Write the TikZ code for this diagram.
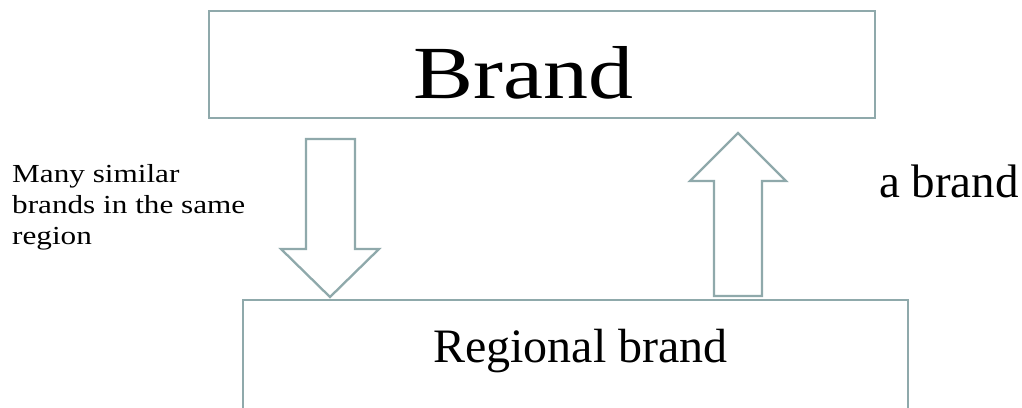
\documentclass[tikz,border=0pt]{standalone}
\usepackage{fontspec}
\setmainfont{Liberation Serif}
\newfontfamily\wideserif{Liberation Serif}[FakeStretch=1.2]
\definecolor{frame}{HTML}{8FA9AB}
\begin{document}
\begin{tikzpicture}[x=1pt,y=-1pt,
  box/.style={draw=frame, line width=2.3pt, inner sep=0pt},
  blockarrow/.style={draw=frame, fill=white, line width=2.3pt, line join=miter},
  label/.style={inner sep=0pt, text=black}]
\useasboundingbox (0,0) rectangle (1022,407);
\clip (0,0) rectangle (1022,407);

% the two boxes (the lower one runs past the bottom edge)
\node[box, minimum width=666pt, minimum height=107pt] (brand) at (542,64.5) {};
\node[box, minimum width=665pt, minimum height=200pt, anchor=north west] (regional) at (242,299) {};

% box captions
\node[label, anchor=base west, font=\wideserif\fontsize{75}{90}\selectfont] (brandtxt) at (413,98) {Brand};
\node[label, anchor=base west, font=\fontsize{48}{58}\selectfont] (regionaltxt) at (433,362) {Regional brand};

% side texts
\node[label, anchor=north west, align=left, font=\wideserif\fontsize{26}{31}\selectfont] (many) at (12,164)
  {Many similar\\brands in the same\\region};
\node[label, anchor=base west, font=\fontsize{47}{56}\selectfont] (abrand) at (879,197) {a brand};

% block arrows between the boxes
\draw[blockarrow] (306,139) -- (355,139) -- (355,249) -- (379,249) -- (330,297)
  -- (281,249) -- (306,249) -- cycle;
\draw[blockarrow] (714,296) -- (762,296) -- (762,181) -- (786,181) -- (738,133)
  -- (690,181) -- (714,181) -- cycle;
\end{tikzpicture}
\end{document}
